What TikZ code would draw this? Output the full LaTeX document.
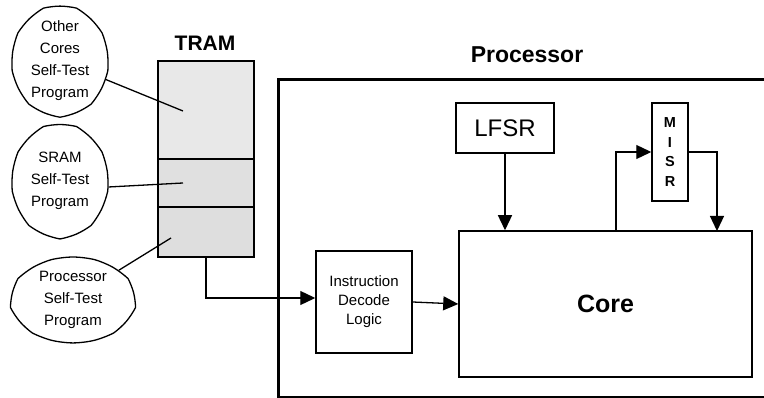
\documentclass[tikz,border=0pt]{standalone}
\usepackage{fontspec}
\setmainfont{Liberation Sans}
\usetikzlibrary{arrows.meta,shapes.symbols}
\begin{document}
\begin{tikzpicture}[x=1pt,y=-1pt,
  box/.style={draw,line width=1.5pt,inner sep=0pt,minimum width=#1},
  bubble/.style={shape=cloud,draw,line width=1.3pt,cloud puffs=9,cloud puff arc=28,
     cloud ignores aspect,inner sep=0pt,align=center,
     font=\fontsize{15}{22}\selectfont},
  conn/.style={line width=1.3pt},
  arr/.style={line width=1.3pt,-{Triangle[length=15pt,width=14pt]}},
  title/.style={font=\fontsize{22}{26}\selectfont\bfseries}]
\useasboundingbox (0,0) rectangle (764,398);
\fill[white] (0,0) rectangle (764,398);
% Processor frame
\begin{scope}
\clip (0,0) rectangle (764,398);
\node[draw,line width=3pt,inner sep=0pt,minimum width=530pt,minimum height=318pt,anchor=north west] (proc) at (277,78) {};
\end{scope}
\node[title,font=\fontsize{23}{26}\selectfont\bfseries] (proclabel) at (527,55) {Processor};
\node[title,font=\fontsize{21}{26}\selectfont\bfseries] (tramlabel) at (205,43) {TRAM};
% TRAM
\node[box=96pt,minimum height=98pt,fill=black!9] (tramA) at (206,110) {};
\node[box=96pt,minimum height=48pt,fill=black!12] (tramB) at (206,183) {};
\node[box=96pt,minimum height=50pt,fill=black!13] (tramC) at (206,232) {};
% bubbles
\node[bubble,minimum width=96pt,minimum height=109pt] (b1) at (60,61) {Other\\Cores\\Self-Test\\Program};
\node[bubble,minimum width=96pt,minimum height=113pt] (b2) at (60,181) {SRAM\\Self-Test\\Program};
\node[bubble,minimum width=123pt,minimum height=86pt] (b3) at (73,300) {Processor\\Self-Test\\Program};
\coordinate (pA) at (183,111);
\coordinate (pB) at (183,183);
\coordinate (pC) at (171,238);
\draw[conn] (b1.-22) -- (pA);
\draw[conn] (b2.-7) -- (pB);
\draw[conn] (b3.33) -- (pC);
% blocks
\node[box=98pt,minimum height=50pt,font=\fontsize{24}{28}\selectfont] (lfsr) at (505,128) {LFSR};
\node[box=36pt,minimum height=98pt,align=center,font=\fontsize{14.5}{19.5}\selectfont\bfseries] (misr) at (670,152) {M\\I\\S\\R};
\node[box=293pt,minimum height=146pt,font=\fontsize{25}{28}\selectfont\bfseries] (core) at (605.5,304) {Core};
\node[box=96pt,minimum height=102pt,align=center,font=\fontsize{15}{19}\selectfont] (instr) at (364,302) {Instruction\\Decode\\Logic};
\coordinate (c1) at (616,231);
\coordinate (c2) at (717,231);
% connectors
\draw[arr] (tramC.south) |- ([yshift=4pt]instr.west);
\draw[arr] (instr.east) -- (core.west);
\draw[arr] (lfsr.south) -- (lfsr.south |- core.north);
\draw[arr] (c1) |- (misr.west);
\draw[arr] (misr.east) -| (c2);
\end{tikzpicture}
\end{document}
